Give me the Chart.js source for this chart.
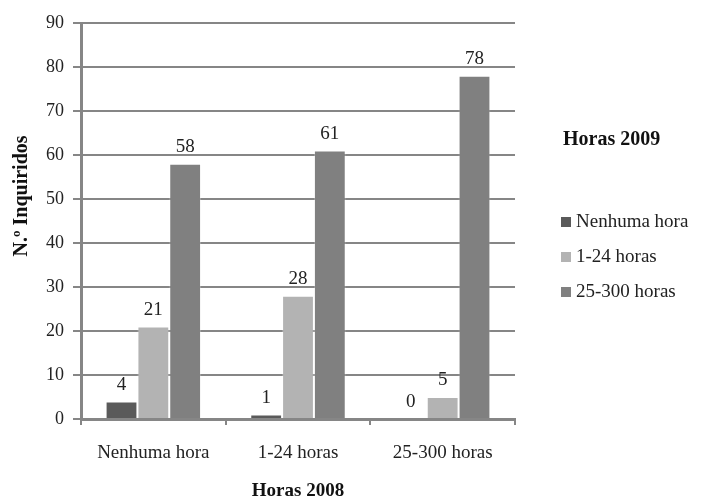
<!DOCTYPE html>
<html>
<head>
<meta charset="utf-8">
<script src="https://cdn.jsdelivr.net/npm/chart.js@4"></script>
<style>
  html, body { margin: 0; padding: 0; background: #fff; }
  #wrap { width: 701px; height: 500px; }
</style>
</head>
<body>
<div id="wrap"><canvas id="myBarChart" width="701" height="500"></canvas></div>
<script>
// data
var categories = ["Nenhuma hora", "1-24 horas", "25-300 horas"];
var seriesNames = ["Nenhuma hora", "1-24 horas", "25-300 horas"];
var nenhumaHora = [4, 1, 0];
var horas1a24 = [21, 28, 5];
var horas25a300 = [58, 61, 78];
var seriesColors = ["#5a5a5a", "#b3b3b3", "#808080"];
var yTicks = [0, 10, 20, 30, 40, 50, 60, 70, 80, 90];
var xTitle = "Horas 2008";
var yTitle = "N.º Inquiridos";
var legendTitle = "Horas 2009";

var FONT = "'Liberation Serif', serif";

// value labels above the bars
var valueLabels = {
    id: "valueLabels",
    afterDatasetsDraw: function (chart) {
        var ctx = chart.ctx;
        ctx.save();
        ctx.font = "19px " + FONT;
        ctx.fillStyle = "#222";
        ctx.textAlign = "center";
        ctx.textBaseline = "bottom";
        chart.data.datasets.forEach(function (ds, i) {
            chart.getDatasetMeta(i).data.forEach(function (bar, j) {
                ctx.fillText(ds.data[j], bar.x, bar.y - 7);
            });
        });
        ctx.restore();
    },
};

// y title and the legend on the right
var extras = {
    id: "extras",
    afterDraw: function (chart) {
        var ctx = chart.ctx;
        var area = chart.chartArea;
        ctx.save();
        ctx.fillStyle = "#111";
        ctx.font = "bold 20px " + FONT;
        ctx.textAlign = "center";
        ctx.textBaseline = "middle";
        ctx.translate(22, 196);
        ctx.rotate(-Math.PI / 2);
        ctx.fillText(yTitle, 0, 0);
        ctx.restore();

        ctx.save();
        ctx.fillStyle = "#111";
        ctx.font = "bold 20px " + FONT;
        ctx.textAlign = "left";
        ctx.textBaseline = "middle";
        ctx.fillText(legendTitle, area.right + 48, 140);
        ctx.font = "19px " + FONT;
        chart.data.datasets.forEach(function (ds, i) {
            var y = 222 + i * 35;
            ctx.fillStyle = ds.backgroundColor;
            ctx.fillRect(area.right + 46, y - 5, 10, 10);
            ctx.fillStyle = "#222";
            ctx.fillText(ds.label, area.right + 61, y);
        });
        ctx.restore();
    },
};

var ctx = document.getElementById("myBarChart").getContext("2d");

var data = {
    labels: categories,
    datasets: [nenhumaHora, horas1a24, horas25a300].map(function (vals, i) {
        return {
            label: seriesNames[i],
            data: vals,
            backgroundColor: seriesColors[i],
            borderColor: "rgba(255,255,255,0.25)",
            borderWidth: 1,
            categoryPercentage: 0.66,
            barPercentage: 1.0,
        };
    }),
};

var options = {
    responsive: false,
    animation: false,
    layout: { padding: { top: 23, right: 186, left: 0, bottom: 0 } },
    plugins: {
        legend: { display: false },
        tooltip: { enabled: false },
    },
    scales: {
        y: {
            min: 0,
            max: 90,
            afterFit: function (scale) { scale.width = 81; },
            afterBuildTicks: function (scale) {
                scale.ticks = yTicks.map(function (v) { return { value: v }; });
            },
            ticks: {
                color: "#222",
                font: { size: 18, family: FONT },
                padding: 9,
            },
            grid: {
                color: "#868686",
                lineWidth: 2,
                tickLength: 8,
            },
            border: { color: "#868686", width: 3 },
        },
        x: {
            afterFit: function (scale) { scale.height = 81; },
            ticks: {
                color: "#222",
                font: { size: 19, family: FONT },
                padding: 17,
            },
            grid: {
                display: true,
                drawOnChartArea: false,
                color: "#868686",
                lineWidth: 2,
                tickLength: 6,
            },
            border: { color: "#868686", width: 3 },
            title: {
                display: true,
                text: xTitle,
                color: "#111",
                font: { size: 19, weight: "bold", family: FONT },
                padding: { top: 22, bottom: -2 },
            },
        },
    },
};

new Chart(ctx, {
    type: "bar",
    data: data,
    options: options,
    plugins: [valueLabels, extras],
});
</script>
</body>
</html>
